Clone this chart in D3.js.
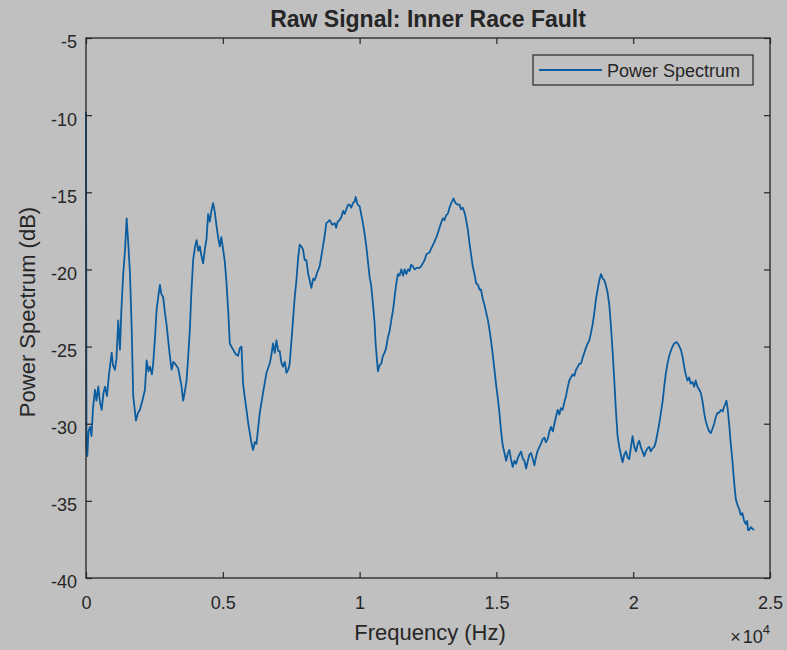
<!DOCTYPE html>
<html><head><meta charset="utf-8">
<script src="https://cdn.jsdelivr.net/npm/d3@7"></script>
<style>
html,body{margin:0;padding:0;background:#c0c0c0;}
svg{display:block;}
text{font-family:"Liberation Sans",Arial,Helvetica,sans-serif;fill:#262626;}
</style></head><body>
<svg id="chart" width="787" height="650"></svg>
<script>
const title = "Raw Signal: Inner Race Fault";
const xLabel = "Frequency (Hz)";
const yLabel = "Power Spectrum (dB)";
const seriesName = "Power Spectrum";
const xTicks = [0, 5000, 10000, 15000, 20000, 25000];
const xTickLabels = ["0", "0.5", "1", "1.5", "2", "2.5"];
const yTicks = [-5, -10, -15, -20, -25, -30, -35, -40];
const yTickLabels = ["-5", "-10", "-15", "-20", "-25", "-30", "-35", "-40"];

const freq = [0,18,47,91,146,201,256,329,383,449,511,573,639,694,767,840,938,986,1059,1113,1179,1241,1296,1361,1424,1486,1544,1606,1668,1726,1825,1898,1971,2062,2154,2216,2281,2336,2409,2456,2519,2581,2646,2701,2756,2821,2884,2946,3004,3066,3128,3194,3249,3369,3431,3493,3551,3614,3676,3741,3796,3851,3916,3979,4041,4106,4161,4216,4281,4344,4406,4464,4526,4581,4646,4709,4771,4836,4891,4946,5011,5074,5136,5201,5256,5311,5376,5475,5559,5621,5683,5741,5804,5866,5931,5986,6041,6106,6169,6231,6296,6351,6471,6596,6716,6771,6836,6899,6961,7026,7081,7136,7201,7264,7326,7391,7446,7501,7566,7629,7691,7756,7811,7866,7931,7994,8056,8121,8176,8238,8304,8359,8450,8541,8596,8661,8724,8786,8851,8906,8997,9089,9143,9198,9271,9333,9399,9454,9516,9581,9636,9691,9756,9819,9855,9928,10001,10056,10121,10184,10246,10311,10366,10421,10486,10549,10585,10632,10669,10731,10793,10851,10914,10969,11034,11096,11158,11224,11279,11334,11399,11461,11523,11589,11644,11706,11771,11826,11881,11946,12009,12082,12191,12246,12311,12374,12447,12556,12629,12739,12830,12921,12976,13041,13104,13158,13224,13286,13348,13432,13505,13589,13651,13706,13771,13834,13896,13961,14016,14071,14136,14199,14261,14326,14381,14436,14501,14564,14626,14691,14746,14801,14866,14929,14991,15056,15111,15166,15231,15294,15356,15421,15476,15531,15596,15659,15721,15786,15841,15903,15969,16024,16086,16151,16206,16268,16334,16389,16443,16498,16571,16626,16691,16754,16808,16874,16936,16998,17064,17119,17173,17239,17301,17356,17421,17484,17546,17611,17666,17721,17794,17849,17910,17976,18031,18093,18159,18214,18268,18334,18396,18458,18524,18579,18633,18699,18761,18823,18889,18944,18998,19064,19126,19188,19254,19309,19363,19429,19491,19546,19611,19674,19736,19801,19856,19911,19976,20039,20101,20166,20221,20276,20341,20404,20458,20524,20586,20641,20706,20769,20823,20889,20951,21013,21079,21134,21188,21254,21316,21371,21436,21499,21582,21663,21743,21809,21864,21918,21984,22046,22101,22166,22229,22283,22349,22411,22473,22539,22594,22648,22714,22776,22838,22904,22959,23013,23079,23141,23203,23269,23324,23371,23407,23451,23506,23561,23626,23689,23751,23816,23871,23926,23991,24054,24116,24163,24200,24236,24298,24356,24414];

const powerDb = [-9.8,-31.5,-32.1,-30.5,-30.2,-30.8,-29.0,-27.8,-28.5,-27.6,-28.6,-29.1,-28.0,-27.6,-28.2,-26.8,-25.4,-26.2,-26.5,-25.8,-23.3,-25.2,-22.5,-20.3,-18.8,-16.7,-18.3,-20.2,-23.7,-28.2,-29.8,-29.3,-29.1,-28.5,-27.8,-25.9,-26.6,-26.3,-26.8,-26.1,-24.5,-22.6,-21.7,-21.0,-21.6,-21.8,-22.8,-23.6,-24.6,-25.6,-26.5,-26.0,-26.1,-26.4,-27.0,-27.6,-28.5,-27.9,-27.2,-25.5,-23.9,-21.5,-19.4,-18.6,-18.1,-18.8,-18.5,-19.1,-19.6,-18.7,-18.0,-16.4,-16.9,-16.2,-15.7,-16.3,-17.2,-18.0,-18.5,-17.9,-18.7,-19.5,-20.9,-22.8,-24.8,-25.0,-25.2,-25.5,-25.6,-25.1,-25.0,-27.4,-28.3,-29.1,-30.0,-30.6,-31.2,-31.7,-31.2,-31.3,-30.2,-29.3,-28.0,-26.7,-26.1,-25.6,-24.8,-25.4,-24.6,-25.3,-25.3,-26.0,-26.3,-26.0,-26.7,-26.5,-26.1,-24.8,-23.3,-21.8,-20.7,-19.2,-18.4,-18.5,-18.7,-19.4,-19.4,-20.3,-20.7,-21.2,-20.6,-20.7,-20.2,-19.8,-19.2,-18.5,-17.8,-17.0,-16.9,-16.8,-17.1,-17.0,-17.3,-16.9,-16.8,-16.6,-16.2,-16.4,-16.1,-15.8,-15.8,-16.0,-15.7,-15.6,-15.3,-15.8,-15.9,-16.4,-17.0,-17.7,-18.5,-19.6,-20.5,-21.0,-22.2,-23.5,-24.8,-25.8,-26.6,-26.2,-26.1,-25.6,-25.4,-25.1,-24.4,-24.0,-23.3,-22.6,-21.8,-21.0,-20.3,-20.4,-20.0,-20.4,-20.0,-20.3,-20.0,-20.1,-19.7,-19.8,-20.0,-19.9,-19.9,-19.8,-19.6,-19.4,-19.0,-18.9,-18.6,-18.2,-17.8,-17.3,-17.0,-16.7,-16.8,-16.5,-16.4,-16.0,-15.7,-15.4,-15.7,-15.8,-15.8,-16.1,-16.0,-16.3,-16.8,-17.5,-18.3,-19.0,-19.8,-20.3,-20.9,-21.0,-21.3,-21.3,-21.9,-22.3,-22.8,-23.3,-23.9,-24.6,-25.5,-26.5,-27.5,-28.4,-29.3,-30.4,-31.4,-31.9,-32.4,-31.9,-31.7,-32.3,-32.8,-32.4,-32.6,-32.2,-32.0,-31.8,-32.3,-32.4,-32.9,-32.4,-32.0,-31.9,-32.3,-32.7,-32.2,-31.8,-31.5,-31.3,-31.0,-30.9,-31.2,-31.0,-30.5,-30.2,-30.5,-30.0,-29.6,-29.1,-29.4,-29.0,-29.1,-28.6,-28.2,-27.6,-27.2,-27.0,-26.8,-26.9,-26.5,-26.3,-26.1,-26.1,-25.7,-25.4,-25.1,-24.8,-24.6,-24.1,-23.5,-22.8,-22.0,-21.3,-20.7,-20.3,-20.6,-20.7,-21.0,-21.5,-22.3,-23.7,-25.5,-27.2,-29.0,-30.8,-31.5,-32.0,-32.5,-32.0,-31.8,-32.2,-32.3,-31.6,-30.8,-31.5,-31.8,-31.3,-31.1,-31.5,-31.8,-32.1,-31.8,-31.6,-31.5,-31.8,-31.6,-31.5,-31.2,-30.6,-30.0,-29.3,-28.5,-27.6,-26.8,-26.1,-25.6,-25.3,-25.0,-24.8,-24.7,-24.9,-25.2,-25.7,-26.3,-26.8,-27.2,-27.0,-27.4,-27.3,-27.6,-27.2,-27.6,-27.8,-28.0,-28.6,-29.3,-29.8,-30.2,-30.5,-30.6,-30.3,-30.0,-29.6,-29.3,-29.3,-29.1,-29.2,-28.9,-28.7,-28.5,-29.0,-30.0,-31.2,-32.4,-33.8,-34.9,-35.3,-35.5,-35.9,-35.8,-36.3,-36.5,-36.3,-36.9,-36.9,-36.7,-36.8,-36.9];

const svg = d3.select("#chart");
const W = 787, H = 650;
const m = {left: 86, top: 38, right: 787 - 770, bottom: 650 - 578};
const pw = W - m.left - m.right, ph = H - m.top - m.bottom;

const x = d3.scaleLinear().domain([0, 25000]).range([m.left, m.left + pw]);
const y = d3.scaleLinear().domain([-40, -5]).range([m.top + ph, m.top]);

const g = svg.append("g");
const lineColor = "#0b5d9f";

// line
const data = freq.map((f, i) => [f, powerDb[i]]);
const line = d3.line().x(d => x(d[0])).y(d => y(d[1]));
g.append("path").datum(data)
  .attr("d", line)
  .attr("fill", "none")
  .attr("stroke", lineColor)
  .attr("stroke-width", 1.8)
  .attr("stroke-linejoin", "round");

const tickLen = 6;
const axisColor = "#262626";
const tickFont = 18;
const xb = d3.axisBottom(x).tickValues(xTicks).tickSizeInner(-tickLen).tickSizeOuter(0)
  .tickFormat((d, i) => xTickLabels[i]).tickPadding(0);
const xbG = g.append("g").attr("transform", `translate(0,${m.top + ph})`).call(xb);
const xt = d3.axisTop(x).tickValues(xTicks).tickSizeInner(-tickLen).tickSizeOuter(0).tickFormat("");
const xtG = g.append("g").attr("transform", `translate(0,${m.top})`).call(xt);
const yl = d3.axisLeft(y).tickValues(yTicks).tickSizeInner(-tickLen).tickSizeOuter(0)
  .tickFormat((d, i) => yTickLabels[i]).tickPadding(0);
const ylG = g.append("g").attr("transform", `translate(${m.left},0)`).call(yl);
const yr = d3.axisRight(y).tickValues(yTicks).tickSizeInner(-tickLen).tickSizeOuter(0).tickFormat("");
const yrG = g.append("g").attr("transform", `translate(${m.left + pw},0)`).call(yr);

[xbG, xtG, ylG, yrG].forEach(a => {
  a.select(".domain").remove();
  a.selectAll(".tick line").attr("stroke", axisColor).attr("stroke-width", 1.2);
  a.selectAll(".tick text").attr("font-size", tickFont).attr("fill", axisColor)
    .attr("font-family", "'Liberation Sans', Arial, sans-serif");
});
// x labels: baseline ~31px below axis
xbG.selectAll(".tick text").attr("y", 31).attr("dy", null);
// y labels: right edge ~9px left of axis, slightly below tick
ylG.selectAll(".tick text").attr("x", -9).attr("dy", "0.55em");

// box
g.append("rect").attr("x", m.left).attr("y", m.top).attr("width", pw).attr("height", ph)
  .attr("fill", "none").attr("stroke", axisColor).attr("stroke-width", 1.3);

// title
svg.append("text").attr("x", m.left + pw / 2).attr("y", 27).attr("text-anchor", "middle")
  .attr("font-size", 23).attr("font-weight", "bold").attr("fill", "#000").text(title);
// x label
svg.append("text").attr("x", m.left + pw / 2 + 2).attr("y", 640).attr("text-anchor", "middle")
  .attr("font-size", 22).text(xLabel);
// y label
svg.append("text").attr("transform", `translate(35,${m.top + ph / 2 + 4}) rotate(-90)`)
  .attr("text-anchor", "middle").attr("font-size", 22).text(yLabel);
// exponent
const ex = svg.append("text").attr("x", m.left + pw).attr("y", 643).attr("text-anchor", "end").attr("font-size", 18);
ex.append("tspan").text("\u00d7");
ex.append("tspan").attr("dx", 2).text("10");
ex.append("tspan").attr("dy", -9).attr("font-size", 13).text("4");

// legend
const lg = svg.append("g");
lg.append("rect").attr("x", 533).attr("y", 55).attr("width", 220).attr("height", 30)
  .attr("fill", "#c0c0c0").attr("stroke", axisColor).attr("stroke-width", 1.2);
lg.append("line").attr("x1", 539).attr("x2", 602).attr("y1", 70).attr("y2", 70)
  .attr("stroke", lineColor).attr("stroke-width", 1.8);
lg.append("text").attr("x", 607).attr("y", 77).attr("font-size", 18).text(seriesName);
</script>
</body></html>
